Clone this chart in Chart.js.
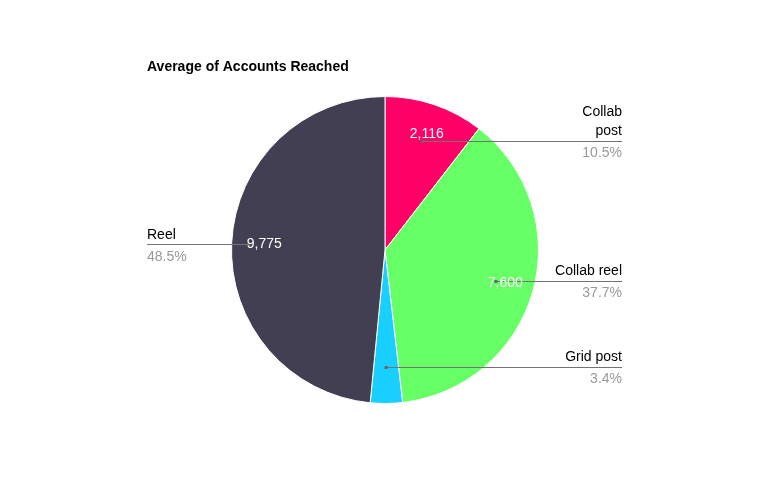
<!DOCTYPE html>
<html>
<head>
<meta charset="utf-8">
<script src="https://cdn.jsdelivr.net/npm/chart.js@4"></script>
<style>
  html, body { margin: 0; padding: 0; background: #fff; }
  #wrap { width: 768px; height: 500px; }
</style>
</head>
<body>
<div id="wrap"><canvas id="pieChart" width="768" height="500"></canvas></div>
<script>
// chart data
const chartTitle = "Average of Accounts Reached";
const categories = ["Collab post", "Collab reel", "Grid post", "Reel"];
const labelLines = [["Collab", "post"], ["Collab reel"], ["Grid post"], ["Reel"]];
const reached = [2116, 7600, 680, 9775];
const sliceColors = ["#ff0066", "#66ff66", "#18cfff", "#433f52"];

// draws the title, value labels and leader-line labels
const pieLabels = {
  id: "pieLabels",
  afterDraw(chart) {
    const ctx = chart.ctx;
    const meta = chart.getDatasetMeta(0);
    const data = chart.data.datasets[0].data;
    const total = data.reduce((a, b) => a + b, 0);

    ctx.save();
    // title
    ctx.font = "bold 14px 'Liberation Sans', Arial, sans-serif";
    ctx.fillStyle = "#000";
    ctx.textAlign = "left";
    ctx.textBaseline = "middle";
    ctx.fillText(chartTitle, 147, 67);

    // anchor radius (fraction of the pie radius) for each leader line
    const anchorFrac = [0.75, 0.75, 0.76, 0.89];

    meta.data.forEach((arc, i) => {
      const mid = (arc.startAngle + arc.endAngle) / 2;
      const r = arc.outerRadius;
      const ax = arc.x + Math.cos(mid) * r * anchorFrac[i];
      const ay = arc.y + Math.sin(mid) * r * anchorFrac[i] + (i === 3 ? 1 : 0);
      const rightSide = Math.cos(mid) >= 0;
      const edgeX = rightSide ? 622 : 147;

      // leader line
      ctx.strokeStyle = "#737373";
      ctx.lineWidth = 1;
      ctx.beginPath();
      ctx.moveTo(edgeX, Math.round(ay) + 0.5);
      ctx.lineTo(ax, Math.round(ay) + 0.5);
      ctx.stroke();
      ctx.fillStyle = "#666";
      ctx.fillRect(ax - 1.5, Math.round(ay) - 1, 3, 3);

      // category name above the line
      ctx.font = "14px 'Liberation Sans', Arial, sans-serif";
      ctx.textAlign = rightSide ? "right" : "left";
      ctx.fillStyle = "#000";
      const lines = labelLines[i];
      lines.forEach((t, k) => {
        const y = ay - 9.5 - (lines.length - 1 - k) * 19;
        ctx.fillText(t, edgeX, y);
      });

      // percentage below the line
      ctx.fillStyle = "#999";
      const pct = (data[i] / total * 100).toFixed(1) + "%";
      ctx.fillText(pct, edgeX, ay + 12.5);

      // value inside the slice (skip tiny slices)
      if (data[i] / total > 0.05) {
        const vx = arc.x + Math.cos(mid) * r * 0.8;
        const vy = arc.y + Math.sin(mid) * r * 0.8;
        ctx.fillStyle = "#fff";
        ctx.textAlign = "center";
        ctx.fillText(data[i].toLocaleString("en-US"), vx + 2, vy);
      }
    });
    ctx.restore();
  },
};

const ctx = document.getElementById("pieChart").getContext("2d");
new Chart(ctx, {
  type: "pie",
  data: {
    labels: categories,
    datasets: [
      {
        data: reached,
        backgroundColor: sliceColors,
        borderColor: "#ffffff",
        borderWidth: 1,
      },
    ],
  },
  options: {
    responsive: false,
    animation: false,
    layout: { padding: { top: 96, bottom: 96, left: 231, right: 229 } },
    plugins: {
      legend: { display: false },
      tooltip: { enabled: false },
    },
  },
  plugins: [pieLabels],
});
</script>
</body>
</html>
